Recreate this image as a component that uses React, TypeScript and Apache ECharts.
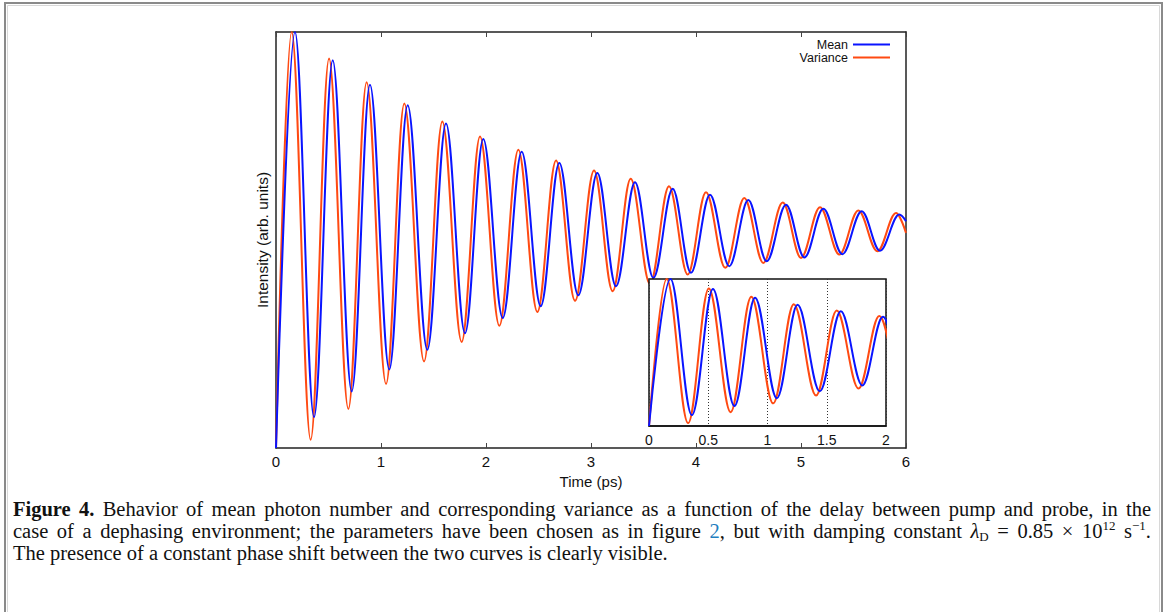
import React, { useEffect, useRef } from "react";
import * as echarts from "echarts";

const tMean = [0, 0.181, 0.362, 0.540, 0.721, 0.895, 1.079, 1.254, 1.441, 1.619, 1.800, 1.974, 2.159, 2.340, 2.521, 2.698, 2.879, 3.060, 3.238, 3.419, 3.594, 3.778, 3.952, 4.133, 4.317, 4.498, 4.673, 4.857, 5.032, 5.213, 5.394, 5.578, 5.752, 5.936, 6.0];
const vMean = [0, 1.0, 0.074, 0.932, 0.136, 0.873, 0.189, 0.824, 0.236, 0.780, 0.276, 0.743, 0.3125, 0.712, 0.341, 0.685, 0.367, 0.661, 0.389, 0.639, 0.409, 0.623, 0.421, 0.609, 0.437, 0.596, 0.449, 0.585, 0.458, 0.575, 0.466, 0.569, 0.474, 0.561, 0.545];
const tVar = [0, 0.149, 0.330, 0.505, 0.689, 0.863, 1.048, 1.222, 1.410, 1.584, 1.768, 1.943, 2.127, 2.308, 2.489, 2.667, 2.848, 3.029, 3.206, 3.378, 3.562, 3.743, 3.921, 4.095, 4.279, 4.460, 4.641, 4.826, 5.000, 5.181, 5.365, 5.546, 5.727, 5.905, 6.0];
const vVar = [0, 1.0, 0.020, 0.936, 0.094, 0.879, 0.154, 0.828, 0.208, 0.785, 0.255, 0.749, 0.294, 0.717, 0.327, 0.691, 0.354, 0.667, 0.377, 0.647, 0.394, 0.629, 0.417, 0.615, 0.433, 0.601, 0.445, 0.590, 0.457, 0.579, 0.465, 0.571, 0.473, 0.565, 0.517];

const seriesNames = ["Mean", "Variance"];
const xTitle = "Time (ps)";
const yTitle = "Intensity (arb. units)";
const captionLines = [
  "{b|Figure} {b|4.} Behavior of mean photon number and corresponding variance as a function of the delay between pump and probe, in the",
  "case of a dephasing environment; the parameters have been chosen as in figure {link|2}, but with damping constant {i|λ}{sub|D} = 0.85 × 10{sup|12} s{sup|−1}.",
  "The presence of a constant phase shift between the two curves is clearly visible.",
];
const justified = [true, true, false];

const BLUE = "#0a14ff";
const ORANGE = "#ff4a12";
const SANS = "'Liberation Sans', Arial, sans-serif";
const SERIF = "'Liberation Serif', 'Times New Roman', serif";
const CAP_SIZE = 20.5;

const zip = (t: number[], v: number[]) => t.map((x, i) => [x, v[i]]);

const richCap = {
  b: { fontFamily: SERIF, fontSize: CAP_SIZE, fontWeight: "bold", fill: "#111" },
  link: { fontFamily: SERIF, fontSize: CAP_SIZE, fill: "#1f7fc0" },
  i: { fontFamily: SERIF, fontSize: CAP_SIZE, fontStyle: "italic", fill: "#111" },
  sub: { fontFamily: SERIF, fontSize: 13, fill: "#111", verticalAlign: "bottom", lineHeight: 24 },
  sup: { fontFamily: SERIF, fontSize: 13, fill: "#111", verticalAlign: "top", lineHeight: 24 },
};
const capStyle = (text: string) => ({
  text,
  fill: "#111",
  fontFamily: SERIF,
  fontSize: CAP_SIZE,
  lineHeight: 24,
  verticalAlign: "middle",
  rich: richCap,
});

function buildCaption(): any[] {
  const out: any[] = [];
  const left = 13;
  const right = 1151;
  captionLines.forEach((line, li) => {
    const y = 509 + li * 22;
    if (!justified[li]) {
      out.push({ type: "text", x: left, y, z: 20, style: capStyle(line) });
      return;
    }
    const words = line.split(" ");
    const widths = words.map((w) => {
      const t = new (echarts.graphic as any).Text({ style: capStyle(w) });
      return t.getBoundingRect().width;
    });
    const total = widths.reduce((a, b) => a + b, 0);
    const gap = (right - left - total) / (words.length - 1);
    let x = left;
    words.forEach((w, wi) => {
      out.push({ type: "text", x, y, z: 20, style: capStyle(w) });
      x += widths[wi] + gap;
    });
  });
  return out;
}

export default function App() {
  const ref = useRef<HTMLDivElement>(null);
  useEffect(() => {
    if (!ref.current) return;
    const chart = echarts.init(ref.current, null, { renderer: "svg" });
    const lineCommon = {
      type: "line" as const,
      showSymbol: false,
      symbol: "none",
      smooth: 0.36,
      smoothMonotone: "x" as const,
      clip: true,
    };
    chart.setOption({
      animation: false,
      backgroundColor: "#fff",
      legend: {
        data: seriesNames,
        orient: "vertical",
        right: 275,
        top: 38,
        padding: 0,
        align: "right",
        icon: "rect",
        itemWidth: 37,
        itemHeight: 2,
        itemGap: 0,
        textStyle: { fontFamily: SANS, fontSize: 12.5, color: "#111", lineHeight: 12 },
      },
      grid: [
        { left: 276, right: 259, top: 32, bottom: 164, show: false },
        { left: 649, right: 279, top: 279, bottom: 186, show: true, backgroundColor: "#fff", borderColor: "#111", borderWidth: 1.5, z: 5 },
      ],
      xAxis: [
        {
          gridIndex: 0, type: "value", min: 0, max: 6, interval: 1,
          name: xTitle, nameLocation: "middle", nameGap: 25,
          nameTextStyle: { fontFamily: SANS, fontSize: 15, color: "#111" },
          axisLine: { onZero: false, lineStyle: { color: "#222", width: 1.5 } },
          axisTick: { inside: true, length: 5, lineStyle: { color: "#444" } },
          axisLabel: { margin: 6, fontFamily: SANS, fontSize: 15, color: "#111" },
          splitLine: { show: false },
        },
        {
          gridIndex: 0, type: "value", position: "top", min: 0, max: 6, interval: 1,
          axisLine: { onZero: false, lineStyle: { color: "#222", width: 1.5 } },
          axisTick: { inside: true, length: 5, lineStyle: { color: "#444" } },
          axisLabel: { show: false },
          splitLine: { show: false },
        },
        {
          gridIndex: 1, type: "value", min: 0, max: 2, interval: 0.5, z: 6,
          axisLine: { onZero: false, lineStyle: { color: "#111", width: 1.5 } },
          axisTick: { show: false },
          axisLabel: { margin: 7, fontFamily: SANS, fontSize: 14, color: "#111", formatter: (v: number) => String(v) },
          splitLine: { show: true, lineStyle: { color: "#333", type: [1, 2], width: 1 } },
        },
      ],
      yAxis: [
        {
          gridIndex: 0, type: "value", min: 0, max: 1,
          name: yTitle, nameLocation: "middle", nameGap: 6,
          nameTextStyle: { fontFamily: SANS, fontSize: 15.5, color: "#111" },
          axisLine: { show: true, onZero: false, lineStyle: { color: "#222", width: 1.5 } },
          axisTick: { show: false }, axisLabel: { show: false }, splitLine: { show: false },
        },
        {
          gridIndex: 0, type: "value", min: 0, max: 1, position: "right",
          axisLine: { show: true, onZero: false, lineStyle: { color: "#222", width: 1.5 } },
          axisTick: { show: false }, axisLabel: { show: false }, splitLine: { show: false },
        },
        {
          gridIndex: 1, type: "value", min: 0, max: 1, z: 6,
          axisLine: { show: false }, axisTick: { show: false }, axisLabel: { show: false }, splitLine: { show: false },
        },
      ],
      series: [
        { ...lineCommon, name: seriesNames[0], xAxisIndex: 0, yAxisIndex: 0, data: zip(tMean, vMean), lineStyle: { color: BLUE, width: 2 }, itemStyle: { color: BLUE }, z: 3 },
        { ...lineCommon, name: seriesNames[1], xAxisIndex: 0, yAxisIndex: 0, data: zip(tVar, vVar), lineStyle: { color: ORANGE, width: 2 }, itemStyle: { color: ORANGE }, z: 2 },
        { ...lineCommon, name: seriesNames[0], xAxisIndex: 2, yAxisIndex: 2, data: zip(tMean, vMean), lineStyle: { color: BLUE, width: 2 }, itemStyle: { color: BLUE }, z: 8 },
        { ...lineCommon, name: seriesNames[1], xAxisIndex: 2, yAxisIndex: 2, data: zip(tVar, vVar), lineStyle: { color: ORANGE, width: 2 }, itemStyle: { color: ORANGE }, z: 7 },
      ],
      graphic: [
        { type: "rect", shape: { x: 5, y: 3, width: 1157, height: 640 }, style: { fill: "none", stroke: "#8a8a8a", lineWidth: 2 }, z: 20 },
        { type: "rect", shape: { x: 7.5, y: 5.5, width: 1152, height: 640 }, style: { fill: "none", stroke: "#d8d8d8", lineWidth: 1 }, z: 20 },
        ...buildCaption(),
      ],
    });
    return () => chart.dispose();
  }, []);
  return <div ref={ref} style={{ position: "fixed", left: 0, top: 0, width: 1165, height: 612 }} />;
}
